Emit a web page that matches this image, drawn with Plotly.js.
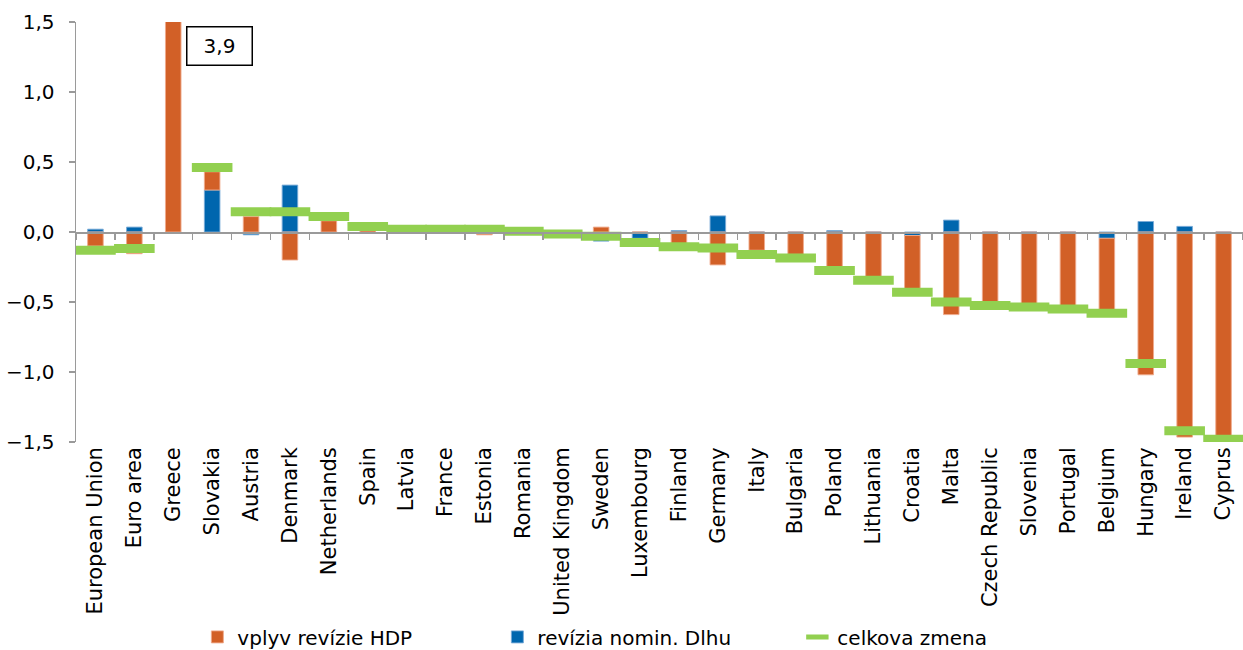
<!DOCTYPE html>
<html>
<head>
<meta charset="utf-8">
<script src="https://cdn.plot.ly/plotly-3.0.1.min.js"></script>
<style>html,body{margin:0;padding:0;background:#fff}#chart{width:1243px;height:650px}</style>
</head>
<body>
<div id="chart"></div>
<script>
const countries = ["European Union","Euro area","Greece","Slovakia","Austria","Denmark","Netherlands","Spain","Latvia","France","Estonia","Romania","United Kingdom","Sweden","Luxembourg","Finland","Germany","Italy","Bulgaria","Poland","Lithuania","Croatia","Malta","Czech Republic","Slovenia","Portugal","Belgium","Hungary","Ireland","Cyprus"];
const hdpEffect = [-0.10,-0.155,3.9,0.13,0.11,-0.20,0.08,0.01,0.0,0.0,-0.02,0.0,0.0,0.035,0.0,-0.11,-0.235,-0.13,-0.16,-0.28,-0.33,-0.40,-0.59,-0.52,-0.53,-0.55,-0.54,-1.02,-1.465,-1.47];
const debtRevision = [0.02,0.035,0.0,0.30,-0.02,0.335,0.0,0.0,0.0,0.0,0.0,0.0,0.0,-0.065,-0.045,0.01,0.115,0.0,0.0,0.01,0.0,-0.025,0.085,0.0,0.0,0.0,-0.045,0.075,0.04,0.0];
const totalChange = [-0.13,-0.117,3.9,0.46,0.145,0.145,0.11,0.04,0.02,0.02,0.02,0.005,-0.015,-0.03,-0.075,-0.105,-0.115,-0.16,-0.185,-0.275,-0.345,-0.43,-0.50,-0.525,-0.535,-0.55,-0.58,-0.94,-1.42,-1.48];
const yTicks = [-1.5,-1.0,-0.5,0.0,0.5,1.0,1.5];
const seriesNames = ["vplyv revízie HDP","revízia nomin. Dlhu","celkova zmena"];
const greeceLabel = "3,9";

const FONT = "DejaVu Sans, Verdana, sans-serif";
const traces = [
  {type:"bar", name:seriesNames[1], legendrank:2, x:countries, y:debtRevision,
   marker:{color:"#0066AE", line:{color:"rgba(120,170,215,0.9)", width:1}}, hoverinfo:"x+y"},
  {type:"bar", name:seriesNames[0], legendrank:1, x:countries, y:hdpEffect,
   marker:{color:"#D26027", line:{color:"rgba(240,170,140,0.9)", width:1}}, hoverinfo:"x+y"},
  {type:"scatter", mode:"markers", name:seriesNames[2], legendrank:3, x:countries, y:totalChange,
   marker:{symbol:"line-ew", size:29, color:"#92D050", line:{color:"#92D050", width:9}}, hoverinfo:"x+y"},
  {type:"scatter", x:countries, y:countries.map(()=>null), xaxis:"x2", showlegend:false, hoverinfo:"skip"}
];
const layout = {
  width:1243, height:650,
  margin:{l:76, r:0, t:22, b:208, autoexpand:false},
  paper_bgcolor:"#fff", plot_bgcolor:"#fff",
  barmode:"relative", bargap:0.6,
  separators:",.",
  font:{family:FONT, color:"#000", size:20},
  xaxis:{type:"category", categoryarray:countries, range:[-0.5, countries.length-0.5],
         showline:false, ticks:"", tickangle:-90, tickfont:{size:21, family:FONT}, showgrid:false, zeroline:false, fixedrange:true},
  xaxis2:{type:"category", categoryarray:countries, overlaying:"x", anchor:"free", position:0.5, range:[-0.5, countries.length-0.5],
          showline:true, linecolor:"#9a9a9a", linewidth:1.5, ticks:"outside", tickson:"boundaries", ticklen:6, tickcolor:"#9a9a9a", tickwidth:1.5,
          showticklabels:false, showgrid:false, zeroline:false, side:"bottom"},
  yaxis:{range:[-1.5,1.5], tickvals:yTicks, tickformat:".1f", showline:true, linecolor:"#9a9a9a", linewidth:1.5,
         ticks:"outside", ticklen:6, tickcolor:"#9a9a9a", tickwidth:1.5, showgrid:false, zeroline:false,
         tickfont:{size:20, family:FONT}, ticklabelstandoff:10},
  legend:{orientation:"h", x:0.104, y:-0.464, xanchor:"left", yanchor:"middle", entrywidth:255, entrywidthmode:"pixels",
          font:{size:20, family:FONT}, itemclick:false},
  annotations:[{xref:"x", yref:"y", x:countries[2], y:1.33, xshift:46.5, text:greeceLabel, showarrow:false,
                bordercolor:"#000", borderwidth:1.5, width:62, height:35, font:{size:20, family:FONT}, bgcolor:"#fff"}]
};
Plotly.newPlot("chart", traces, layout, {displayModeBar:false, staticPlot:true});
</script>
</body>
</html>
